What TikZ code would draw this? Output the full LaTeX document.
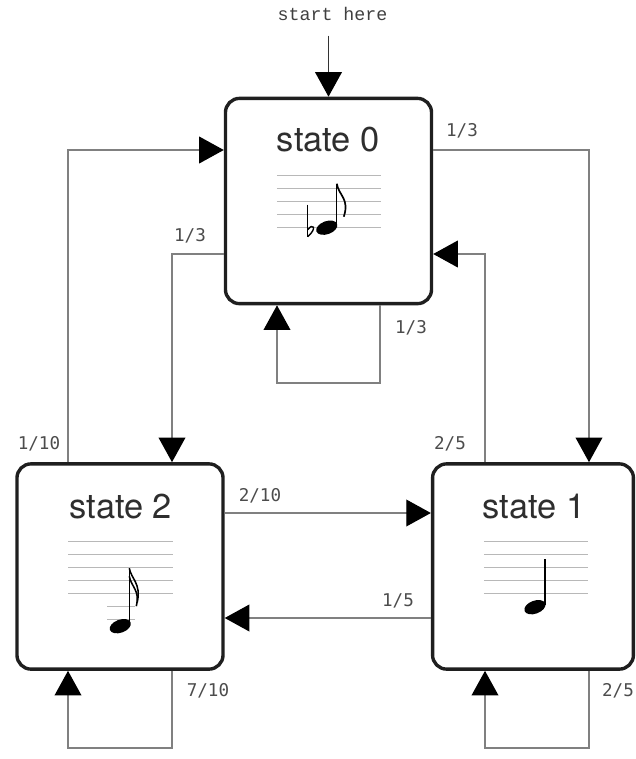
\documentclass[tikz,border=0pt]{standalone}
\usepackage{fontspec}
\newfontfamily\statefont{TeX Gyre Heros}
\newfontfamily\probfont{DejaVu Sans Mono}
\newfontfamily\startfont{Liberation Mono}
\usetikzlibrary{arrows.meta}
\definecolor{edgegray}{gray}{0.5}
\definecolor{staffgray}{gray}{0.72}

\begin{document}
\begin{tikzpicture}[x=0.025cm, y=-0.025cm,
    state/.style={draw=black!88, line width=2.4pt, rounded corners=10pt,
      minimum width=5.15cm, minimum height=5.13cm, inner sep=0pt},
    statename/.style={font=\statefont\fontsize{24.5}{27}\selectfont, text=black!82},
    prob/.style={font=\probfont\fontsize{12.5}{14}\selectfont, text=black!70},
    edge/.style={draw=edgegray, line width=1pt,
      -{Triangle[length=17.5pt,width=19pt,color=black]}},
    staffline/.style={draw=staffgray, line width=0.9pt},
    stem/.style={line width=1pt}]
    \useasboundingbox (0,0) rectangle (636,759);

    % the three states
    \node[state] (s0) at (328.5,201) {};
    \node[state] (s2) at (120,566.5) {};
    \node[state, minimum width=5.02cm] (s1) at (533,566.5) {};

    \begin{scope}[shift={(s0.north west)}]
        \node[statename] (t0) at (104.5,43) {state 0};
        \foreach \y in {79,92,105,118,131}
            \draw[staffline] (53,\y) -- (157,\y);
        \draw[stem] (84,108) -- (84,140);
        \draw[stem] (84,133) .. controls (89,126) and (94,131) .. (84,140);
        \fill[rotate around={20:(103,131)}] (103,131) ellipse [x radius=11, y radius=6.5];
        \draw[stem] (113,129) -- (113,87);
        \draw[line width=1.2pt] (113,87) .. controls (115,99) and (126,102) .. (120,120);
    \end{scope}

    \begin{scope}[shift={(s2.north west)}]
        \node[statename] (t2) at (105.5,44) {state 2};
        \foreach \y in {79,92,105,118,131}
            \draw[staffline] (53,\y) -- (158,\y);
        \draw[staffline] (92,144) -- (120,144);
        \draw[staffline] (92,157) -- (120,157);
        \fill[rotate around={20:(105,164)}] (105,164) ellipse [x radius=11, y radius=6.5];
        \draw[stem] (114,162) -- (114,106);
        \draw[line width=1.1pt] (114,106) .. controls (116,117) and (126,121) .. (122,140);
        \draw[line width=1.1pt] (114,114) .. controls (116,125) and (125,128) .. (121,144);
    \end{scope}

    \begin{scope}[shift={(s1.north west)}]
        \node[statename] (t1) at (103,44) {state 1};
        \foreach \y in {79,92,105,118,131}
            \draw[staffline] (53,\y) -- (157,\y);
        \fill[rotate around={20:(104,145)}] (104,145) ellipse [x radius=11, y radius=6.5];
        \draw[stem] (114,143) -- (114,97);
    \end{scope}

    % start
    \node[font=\startfont\fontsize{13}{15}\selectfont, text=black!75] (start) at (332.5,14) {start here};
    \draw[edge, draw=black!80, shorten <=7pt] (start.south -| s0.north) -- (s0.north);

    % bend points
    \coordinate (b1) at (68,150);
    \coordinate (b2) at (172,254);
    \coordinate (b3) at (589,150);
    \coordinate (b4) at (485,254);
    \coordinate (b5) at (0,513);
    \coordinate (b6) at (0,618);
    \coordinate (b7) at (380,383);
    \coordinate (b8) at (277,383);
    \coordinate (b9) at (172,748);
    \coordinate (b10) at (68,748);
    \coordinate (b11) at (589,748);
    \coordinate (b12) at (485,748);

    % transitions
    \draw[edge] (s2.north -| b1) |- (s0.west |- b1);
    \draw[edge] (s0.west |- b2) -| (s2.north -| b2);
    \draw[edge] (s0.east |- b3) -| (s1.north -| b3);
    \draw[edge] (s1.north -| b4) |- (s0.east |- b4);
    \draw[edge] (s2.east |- b5) -- (s1.west |- b5);
    \draw[edge] (s1.west |- b6) -- (s2.east |- b6);
    \draw[edge] (s0.south -| b7) -- (b7) -- (b8) -- (s0.south -| b8);
    \draw[edge] (s2.south -| b9) -- (b9) -- (b10) -- (s2.south -| b10);
    \draw[edge] (s1.south -| b11) -- (b11) -- (b12) -- (s1.south -| b12);

    % probabilities
    \node[prob] (l01) at (462,131) {1/3};
    \node[prob] (l02) at (190,236) {1/3};
    \node[prob] (l20) at (39,444) {1/10};
    \node[prob] (l10) at (450,444) {2/5};
    \node[prob] (l00) at (411,328) {1/3};
    \node[prob] (l21) at (260,496) {2/10};
    \node[prob] (l12) at (398,601) {1/5};
    \node[prob] (l22) at (208,691) {7/10};
    \node[prob] (l11) at (618,691) {2/5};
\end{tikzpicture}
\end{document}
